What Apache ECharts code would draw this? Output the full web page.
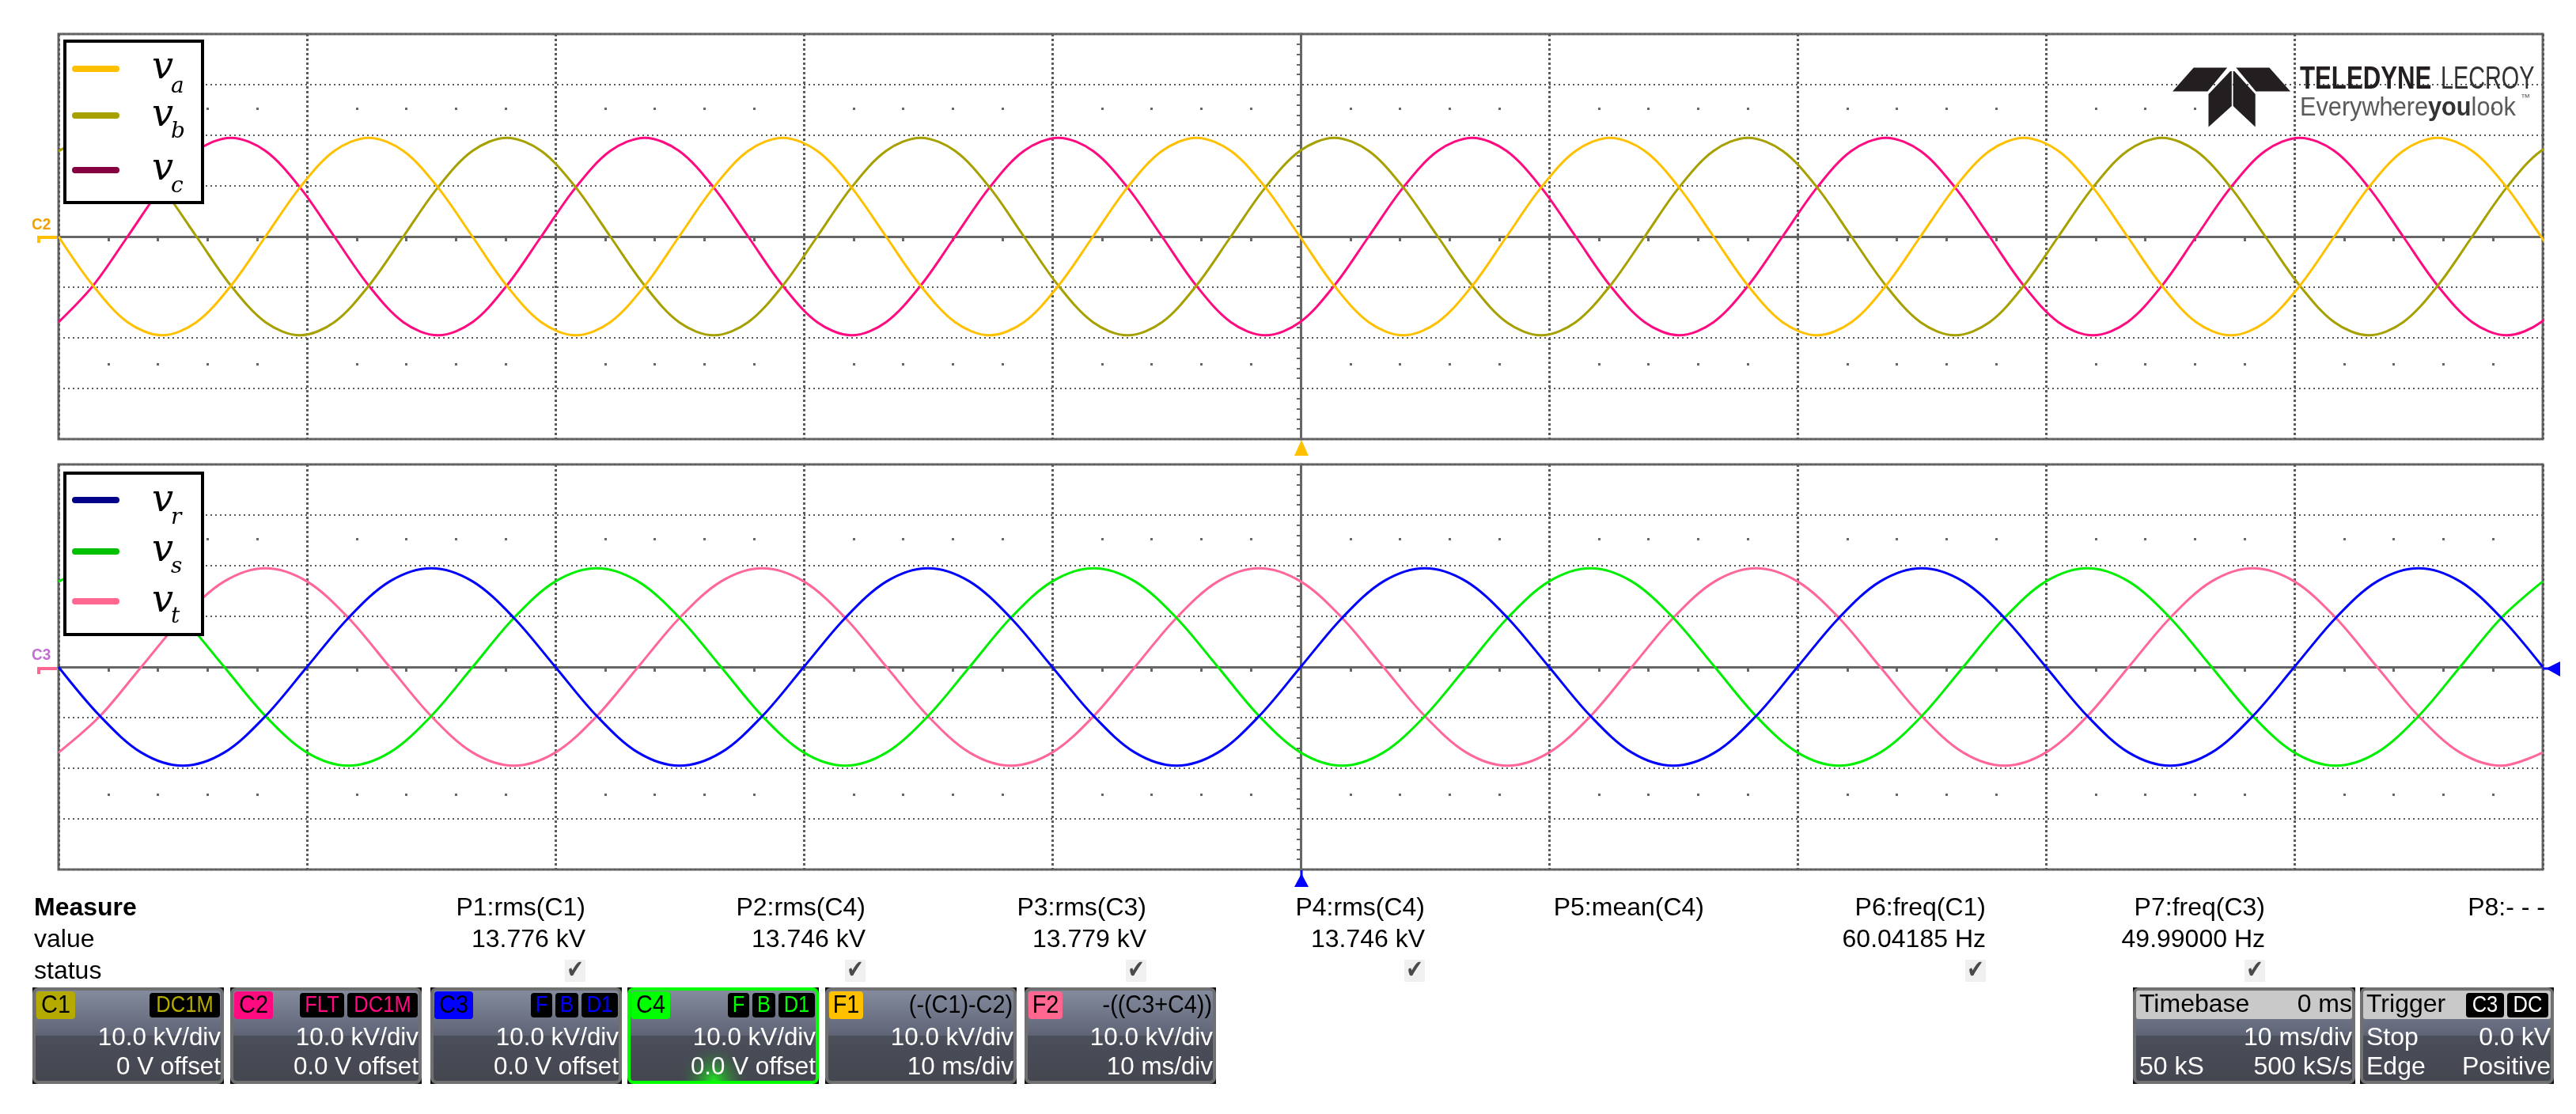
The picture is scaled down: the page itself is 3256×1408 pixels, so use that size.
<!DOCTYPE html>
<html>
<head>
<meta charset="utf-8">
<title>Three-phase voltages – oscilloscope capture</title>
<script src="https://cdn.jsdelivr.net/npm/echarts@6/dist/echarts.min.js"></script>
<style>html,body{margin:0;padding:0;background:#fff}#main{width:3256px;height:1408px}</style>
</head>
<body>
<div id="main"></div>
<script>
// ================= DATA =================
// time in ms, voltage in kV
const timeTop = [
 -50.00,-48.61,-47.22,-45.84,-44.45,-43.06,-41.67,-40.28,-38.90,-37.51,-36.12,-34.73,
 -33.34,-31.96,-30.57,-29.18,-27.79,-26.40,-25.02,-23.63,-22.24,-20.85,-19.46,-18.08,
 -16.69,-15.30,-13.91,-12.52,-11.14,-9.75,-8.36,-6.97,-5.58,-4.20,-2.81,-1.42,
 -0.03,1.35,2.74,4.13,5.52,6.91,8.29,9.68,11.07,12.46,13.85,15.23,
 16.62,18.01,19.40,20.79,22.17,23.56,24.95,26.34,27.73,29.11,30.50,31.89,
 33.28,34.67,36.05,37.44,38.83,40.22,41.61,42.99,44.38,45.77,47.16,48.55,
 49.93,51.32];
const va = [
 0,-9.7,-16.9,-19.5,-16.9,-9.7,0,9.7,16.9,19.5,16.9,9.7,
 0,-9.7,-16.9,-19.5,-16.9,-9.7,0,9.7,16.9,19.5,16.9,9.7,
 0,-9.7,-16.9,-19.5,-16.9,-9.7,0,9.7,16.9,19.5,16.9,9.7,
 0,-9.7,-16.9,-19.5,-16.9,-9.7,0,9.7,16.9,19.5,16.9,9.7,
 0,-9.7,-16.9,-19.5,-16.9,-9.7,0,9.7,16.9,19.5,16.9,9.7,
 0,-9.7,-16.9,-19.5,-16.9,-9.7,0,9.7,16.9,19.5,16.9,9.7,
 0,-9.7];
const vb = [
 16.9,19.5,16.9,9.7,0,-9.7,-16.9,-19.5,-16.9,-9.7,0,9.7,
 16.9,19.5,16.9,9.7,0,-9.7,-16.9,-19.5,-16.9,-9.7,0,9.7,
 16.9,19.5,16.9,9.7,0,-9.7,-16.9,-19.5,-16.9,-9.7,0,9.7,
 16.9,19.5,16.9,9.7,0,-9.7,-16.9,-19.5,-16.9,-9.7,0,9.7,
 16.9,19.5,16.9,9.7,0,-9.7,-16.9,-19.5,-16.9,-9.7,0,9.7,
 16.9,19.5,16.9,9.7,0,-9.7,-16.9,-19.5,-16.9,-9.7,0,9.7,
 16.9,19.5];
const vc = [
 -16.9,-9.7,0,9.7,16.9,19.5,16.9,9.7,0,-9.7,-16.9,-19.5,
 -16.9,-9.7,0,9.7,16.9,19.5,16.9,9.7,0,-9.7,-16.9,-19.5,
 -16.9,-9.7,0,9.7,16.9,19.5,16.9,9.7,0,-9.7,-16.9,-19.5,
 -16.9,-9.7,0,9.7,16.9,19.5,16.9,9.7,0,-9.7,-16.9,-19.5,
 -16.9,-9.7,0,9.7,16.9,19.5,16.9,9.7,0,-9.7,-16.9,-19.5,
 -16.9,-9.7,0,9.7,16.9,19.5,16.9,9.7,0,-9.7,-16.9,-19.5,
 -16.9,-9.7];

const timeBottom = [
 -50,-48.33,-46.67,-45,-43.33,-41.67,-40,-38.33,-36.67,-35,-33.33,-31.67,
 -30,-28.33,-26.67,-25,-23.33,-21.67,-20,-18.33,-16.67,-15,-13.33,-11.67,
 -10,-8.33,-6.67,-5,-3.33,-1.67,0,1.67,3.33,5,6.67,8.33,
 10,11.67,13.33,15,16.67,18.33,20,21.67,23.33,25,26.67,28.33,
 30,31.67,33.33,35,36.67,38.33,40,41.67,43.33,45,46.67,48.33,
 50];
const vr = [
 0,-9.7,-16.9,-19.5,-16.9,-9.7,0,9.7,16.9,19.5,16.9,9.7,
 0,-9.7,-16.9,-19.5,-16.9,-9.7,0,9.7,16.9,19.5,16.9,9.7,
 0,-9.7,-16.9,-19.5,-16.9,-9.7,0,9.7,16.9,19.5,16.9,9.7,
 0,-9.7,-16.9,-19.5,-16.9,-9.7,0,9.7,16.9,19.5,16.9,9.7,
 0,-9.7,-16.9,-19.5,-16.9,-9.7,0,9.7,16.9,19.5,16.9,9.7,
 0];
const vs = [
 16.9,19.5,16.9,9.7,0,-9.7,-16.9,-19.5,-16.9,-9.7,0,9.7,
 16.9,19.5,16.9,9.7,0,-9.7,-16.9,-19.5,-16.9,-9.7,0,9.7,
 16.9,19.5,16.9,9.7,0,-9.7,-16.9,-19.5,-16.9,-9.7,0,9.7,
 16.9,19.5,16.9,9.7,0,-9.7,-16.9,-19.5,-16.9,-9.7,0,9.7,
 16.9,19.5,16.9,9.7,0,-9.7,-16.9,-19.5,-16.9,-9.7,0,9.7,
 16.9];
const vt = [
 -16.9,-9.7,0,9.7,16.9,19.5,16.9,9.7,0,-9.7,-16.9,-19.5,
 -16.9,-9.7,0,9.7,16.9,19.5,16.9,9.7,0,-9.7,-16.9,-19.5,
 -16.9,-9.7,0,9.7,16.9,19.5,16.9,9.7,0,-9.7,-16.9,-19.5,
 -16.9,-9.7,0,9.7,16.9,19.5,16.9,9.7,0,-9.7,-16.9,-19.5,
 -16.9,-9.7,0,9.7,16.9,19.5,16.9,9.7,0,-9.7,-16.9,-19.5,
 -16.9];

const topSubs = ['a','b','c'];
const bottomSubs = ['r','s','t'];
const topTraceColors = ['#FFC000','#A6A000','#FF0A80'];
const topLegendColors = ['#FFC000','#A6A000','#850040'];
const bottomTraceColors = ['#0000FF','#00EE00','#FF6699'];
const bottomLegendColors = ['#000088','#00C000','#FF6690'];

const measureNames = ['P1:rms(C1)','P2:rms(C4)','P3:rms(C3)','P4:rms(C4)','P5:mean(C4)','P6:freq(C1)','P7:freq(C3)','P8:- - -'];
const measureValues = ['13.776 kV','13.746 kV','13.779 kV','13.746 kV','','60.04185 Hz','49.99000 Hz',''];
const measureOk = [true,true,true,true,false,true,true,false];

const chanLabels = ['C1','C2','C3','C4','F1','F2'];
const chanColors = ['#B4AA00','#FF0A80','#0000FF','#00FF00','#FFC000','#FF6690'];
const chanTags = [['DC1M'],['FLT','DC1M'],['F','B','D1'],['F','B','D1'],[],[]];
const chanFunc = ['','','','','(-(C1)-C2)','-((C3+C4))'];
const chanScale = ['10.0 kV/div','10.0 kV/div','10.0 kV/div','10.0 kV/div','10.0 kV/div','10.0 kV/div'];
const chanOffset = ['0 V offset','0.0 V offset','0.0 V offset','0.0 V offset','10 ms/div','10 ms/div'];

// ================= LAYOUT =================
const FONT = '"Liberation Sans", Arial, sans-serif';
const GRID_COLOR = '#666666';
const PANEL_L = 74, PANEL_W = 3140, PANEL_H = 512;
const TOP_Y = 43, BOT_Y = 587;

function axesFor(g, xBase, yBase) {
  const mk = (extra) => Object.assign({gridIndex:g, type:'value', min:-50, max:50, interval:10,
      axisLabel:{show:false}}, extra);
  const xs = [
    mk({axisLine:{show:true,onZero:true,onZeroAxisIndex:yBase,lineStyle:{color:GRID_COLOR,width:3}},
        axisTick:{show:false,inside:false},
        minorTick:{show:true,splitNumber:5,length:6,lineStyle:{color:GRID_COLOR,width:3}},
        splitLine:{show:true,lineStyle:{color:'#5a5a5a',width:3,type:[3,3]}}}),
    mk({axisLine:{show:true,onZero:true,onZeroAxisIndex:yBase+1,lineStyle:{color:GRID_COLOR,width:3}},
        axisTick:{show:false,inside:true},
        minorTick:{show:true,splitNumber:5,length:6,lineStyle:{color:GRID_COLOR,width:3}},
        splitLine:{show:false}}),
    mk({position:'top', offset:-96, axisLine:{show:false,onZero:false}, axisTick:{show:false},
        minorTick:{show:true,splitNumber:5,length:3,lineStyle:{color:GRID_COLOR,width:3}},
        splitLine:{show:false}}),
    mk({position:'bottom', offset:-96, axisLine:{show:false,onZero:false}, axisTick:{show:false},
        minorTick:{show:true,splitNumber:5,length:3,lineStyle:{color:GRID_COLOR,width:3}},
        splitLine:{show:false}})
  ];
  const my = (extra) => Object.assign({gridIndex:g, type:'value', min:-40, max:40, interval:10,
      axisLabel:{show:false}}, extra);
  const ys = [
    my({axisLine:{show:true,onZero:true,onZeroAxisIndex:xBase,lineStyle:{color:GRID_COLOR,width:3}},
        axisTick:{show:false,inside:false},
        minorTick:{show:true,splitNumber:5,length:5,lineStyle:{color:GRID_COLOR,width:2}},
        splitLine:{show:true,lineStyle:{color:'#5a5a5a',width:2,type:[2,4]}}}),
    my({axisLine:{show:true,onZero:true,onZeroAxisIndex:xBase+1,lineStyle:{color:GRID_COLOR,width:3}},
        axisTick:{show:false,inside:true},
        minorTick:{show:true,splitNumber:5,length:5,lineStyle:{color:GRID_COLOR,width:2}},
        splitLine:{show:false}})
  ];
  return {xs, ys};
}
const A0 = axesFor(0, 0, 0);
const A1 = axesFor(1, 4, 2);

function trace(name, times, values, color, xi, yi) {
  return {type:'line', name, xAxisIndex:xi, yAxisIndex:yi,
    data: times.map((t,i)=>[t, values[i]]),
    showSymbol:false, smooth:0.33, clip:true,
    lineStyle:{color, width:3}, itemStyle:{color}, emphasis:{disabled:true}};
}

// ================= GRAPHIC (legend, logo, status area) =================
const G = [];
function txt(x, y, text, o) {
  o = o || {};
  const size = o.size || 32;
  G.push({type:'text', silent:true, z: o.z || 50, scaleX: o.sx || 1, originX:x, originY:y,
    style:{text, x, y, fill:o.fill || '#000',
      font:(o.style||'normal')+' '+(o.weight||'normal')+' '+size+'px '+(o.family||FONT),
      align:o.align||'left', verticalAlign:'middle',
      textAlign:o.align||'left', textVerticalAlign:'middle', rich:o.rich}});
}
function rect(x, y, w, h, o) {
  G.push({type:'rect', silent:true, z:o.z||40, shape:{x, y, width:w, height:h, r:o.r||0},
    style:{fill:o.fill||null, stroke:o.stroke||null, lineWidth:o.lw||0}});
}
function poly(points, fill, z) {
  G.push({type:'polygon', silent:true, z:z||60, shape:{points}, style:{fill}});
}
function seg(x1, y1, x2, y2, color, w, cap, z) {
  G.push({type:'line', silent:true, z:z||60, shape:{x1,y1,x2,y2}, style:{stroke:color, lineWidth:w, lineCap:cap||'butt'}});
}

// legends
function legend(boxY, lineYs, vYs, subYs, subs, colors) {
  rect(82, boxY, 174, 204, {fill:'#fff', stroke:'#000', lw:4, z:100});
  for (let i=0;i<3;i++) {
    seg(95, lineYs[i], 147, lineYs[i], colors[i], 8, 'round', 101);
    txt(192, vYs[i], 'v', {size:48, style:'italic', family:'"DejaVu Serif", serif', z:101});
    txt(216, subYs[i], subs[i], {size:28, style:'italic', family:'"DejaVu Serif", serif', z:101});
  }
}
legend(52, [87,146,215], [87,147,215], [110,167,236], topSubs, topLegendColors);
legend(598, [632,697,760], [634,697,761], [655,717,780], bottomSubs, bottomLegendColors);

// logo
const LC = '#231f20';
poly([[2772.7,85.4],[2815.2,85.4],[2790.4,115.5],[2746.1,115.5]], LC);
poly([[2791.5,119],[2819.1,90],[2820.8,90],[2820.8,134],[2791.5,160.6]], LC);
poly([[2822.6,90],[2824.3,90],[2850.7,119],[2850.7,160.6],[2822.6,134]], LC);
poly([[2826.3,85.4],[2868.4,85.4],[2895,115.5],[2851.3,115.5]], LC);
txt(2907, 101, 'TELEDYNE', {size:40, weight:'bold', fill:'#231f20', sx:0.78});
txt(3085, 101, 'LECROY', {size:40, fill:'#333', sx:0.72});
txt(2907, 137, '{r|Everywhere}{b|you}{r|look}', {size:33, sx:0.93, fill:'#555',
  rich:{r:{fill:'#5a5a5a', fontSize:33, fontFamily:FONT},
        b:{fill:'#333', fontSize:33, fontWeight:'bold', fontFamily:FONT}}});
txt(3186, 124, '™', {size:12, fill:'#555'});

// zero markers / labels at the left of the panels
G.push({type:'polyline', silent:true, z:60, shape:{points:[[49,307],[49,300],[72,300]]}, style:{stroke:'#FFC000', lineWidth:4, fill:null}});
G.push({type:'polyline', silent:true, z:60, shape:{points:[[49,852],[49,845],[72,845]]}, style:{stroke:'#FF6690', lineWidth:4, fill:null}});
txt(40, 284, 'C2', {size:21, weight:'bold', fill:'#F0A000', sx:0.9});
txt(40, 828, 'C3', {size:21, weight:'bold', fill:'#C070D0', sx:0.9});

// trigger / position triangles
poly([[1645,556],[1654,576],[1636,576]], '#FFC000');
seg(1645,1100,1645,1108,'#0000FF',3);
poly([[1645,1104],[1654,1121],[1636,1121]], '#0000FF');
seg(3214,845,3222,845,'#0000FF',3);
poly([[3218,845],[3236,836],[3236,855]], '#0000FF');

// measure table
txt(43, 1148, 'Measure', {weight:'bold'});
txt(43, 1188, 'value');
txt(43, 1228, 'status');
const measRight = [740,1094,1449,1801,2154,2510,2863,3217];
for (let i=0;i<measureNames.length;i++) {
  txt(measRight[i], 1148, measureNames[i], {align:'right'});
  if (measureValues[i]) txt(measRight[i], 1188, measureValues[i], {align:'right'});
  if (measureOk[i]) {
    rect(measRight[i]-26, 1213, 26, 28, {fill:'#f0f0f0'});
    txt(measRight[i]-13, 1228, '✔', {size:32, align:'center', fill:'#4a4a4a', family:'"DejaVu Sans", sans-serif', sx:0.8});
  }
}

// channel descriptor boxes
const BOX_Y = 1248, BOX_H = 122;
function boxBase(x, w, border) {
  rect(x, BOX_Y, w, BOX_H, {fill:'#111', z:30});
  rect(x+2, BOX_Y+2, w-4, BOX_H-4, {r:6, z:31, lw:4, stroke:border,
    fill:new echarts.graphic.LinearGradient(0,0,0,1,[
      {offset:0,color:'#878ea1'},{offset:0.5,color:'#5e6475'},
      {offset:0.5,color:'#4b4f5a'},{offset:1,color:'#43464f'}])});
}
const tagW = {DC1M:89, FLT:56, F:27, B:29, D1:46, C3:48, DC:52};
const boxX = [41,291,544,793,1043,1295];
const BOX_W = 242;
for (let i=0;i<chanLabels.length;i++) {
  const x = boxX[i], w = BOX_W;
  const sel = chanLabels[i] === 'C4';
  boxBase(x, w, sel ? '#00FF00' : '#707070');
  if (sel) {
    G.push({type:'rect', silent:true, z:32, shape:{x:x+4, y:BOX_Y+58, width:w-8, height:BOX_H-62, r:4},
      style:{fill:new echarts.graphic.RadialGradient(0.45,1,0.75,[
        {offset:0,color:'rgba(30,230,30,1)'},{offset:1,color:'rgba(60,80,70,0)'}])}});
  }
  const bw = chanLabels[i][0] === 'F' ? 43 : 49;
  rect(x+5, 1253, bw, 35, {r:4, fill:chanColors[i], z:33});
  txt(x+5+bw/2, 1271, chanLabels[i], {align:'center', size:32, fill:'#000', sx:0.9});
  let rx = x + w - 5;
  const tags = chanTags[i];
  for (let j=tags.length-1;j>=0;j--) {
    const tw = tagW[tags[j]];
    rect(rx-tw, 1255, tw, 31, {r:4, fill:'#000', z:33});
    txt(rx-tw/2, 1271, tags[j], {align:'center', size:30, fill:chanColors[i], sx:0.85});
    rx -= tw + 4;
  }
  if (chanFunc[i]) txt(x+w-5, 1271, chanFunc[i], {align:'right', size:32, fill:'#000', sx:0.9});
  txt(x+w-4, 1312, chanScale[i], {align:'right', fill:'#fff', sx:0.98});
  txt(x+w-4, 1349, chanOffset[i], {align:'right', fill:'#fff', sx:0.98});
}
// timebase
(function(){
  const x = 2696, w = 281;
  boxBase(x, w, '#707070');
  rect(x+4, 1252, w-8, 36, {fill:'#c9c9c9', z:33, r:3});
  txt(x+8, 1270, 'Timebase', {fill:'#000'});
  txt(x+w-4, 1270, '0 ms', {fill:'#000', align:'right'});
  txt(x+w-4, 1312, '10 ms/div', {fill:'#fff', align:'right'});
  txt(x+8, 1349, '50 kS', {fill:'#fff'});
  txt(x+w-4, 1349, '500 kS/s', {fill:'#fff', align:'right'});
})();
// trigger
(function(){
  const x = 2983, w = 245;
  boxBase(x, w, '#707070');
  rect(x+4, 1252, w-8, 36, {fill:'#c9c9c9', z:33, r:3});
  txt(x+8, 1270, 'Trigger', {fill:'#000'});
  rect(3117, 1255, 48, 31, {r:4, fill:'#000', z:34});
  txt(3141, 1271, 'C3', {align:'center', size:30, fill:'#fff', sx:0.85});
  rect(3169, 1255, 52, 31, {r:4, fill:'#000', z:34});
  txt(3195, 1271, 'DC', {align:'center', size:30, fill:'#fff', sx:0.85});
  txt(x+8, 1312, 'Stop', {fill:'#fff'});
  txt(x+w-4, 1312, '0.0 kV', {fill:'#fff', align:'right'});
  txt(x+8, 1349, 'Edge', {fill:'#fff'});
  txt(x+w-4, 1349, 'Positive', {fill:'#fff', align:'right'});
})();

// ================= OPTION =================
const option = {
  animation:false,
  backgroundColor:'#ffffff',
  grid:[
    {left:PANEL_L, top:TOP_Y, width:PANEL_W, height:PANEL_H, show:true, borderColor:GRID_COLOR, borderWidth:3, backgroundColor:'rgba(0,0,0,0)'},
    {left:PANEL_L, top:BOT_Y, width:PANEL_W, height:PANEL_H, show:true, borderColor:GRID_COLOR, borderWidth:3, backgroundColor:'rgba(0,0,0,0)'}
  ],
  xAxis: A0.xs.concat(A1.xs),
  yAxis: A0.ys.concat(A1.ys),
  series:[
    trace('v_c', timeTop, vc, topTraceColors[2], 0, 0),
    trace('v_b', timeTop, vb, topTraceColors[1], 0, 0),
    trace('v_a', timeTop, va, topTraceColors[0], 0, 0),
    trace('v_t', timeBottom, vt, bottomTraceColors[2], 4, 2),
    trace('v_s', timeBottom, vs, bottomTraceColors[1], 4, 2),
    trace('v_r', timeBottom, vr, bottomTraceColors[0], 4, 2)
  ],
  graphic:{elements:G}
};
const chart = echarts.init(document.getElementById('main'), null, {renderer:'canvas', width:3256, height:1408});
chart.setOption(option);
</script>
</body>
</html>
